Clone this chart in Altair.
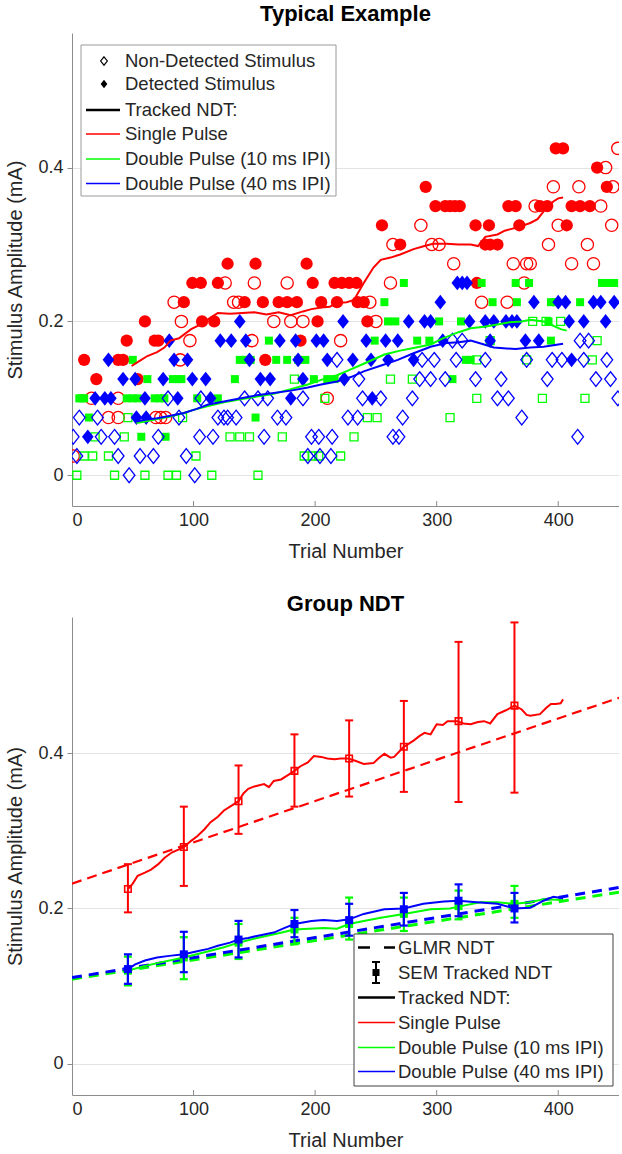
import altair as alt
import pandas as pd

FONT = "Liberation Sans"
X_MAX = 450
Y_MIN, Y_MAX = -0.04, 0.575
X_TICKS = [0, 100, 200, 300, 400]
Y_TICKS = [0, 0.2, 0.4]

# ---------------- Top panel: single trials (amplitude level -> trial numbers) ----------------
SP_DETECTED = {
    0.425: [398, 404],
    0.4: [432],
    0.375: [291, 440],
    0.35: [299, 307, 311, 315, 319, 359, 365, 385, 391, 411, 418, 426],
    0.325: [255, 332, 343, 368, 407],
    0.3: [270, 340, 344, 350],
    0.275: [128, 151, 193],
    0.25: [99, 106, 120, 198, 216, 222, 228, 234, 333],
    0.225: [92, 142, 157, 170, 177, 185, 205, 218, 235, 240],
    0.2: [60, 107, 117, 202, 243],
    0.175: [45, 68, 71, 188],
    0.15: [10, 38, 42, 159],
    0.125: [20, 54],
}
SP_MISSED = {
    0.425: [449],
    0.4: [439],
    0.375: [396, 417, 445],
    0.35: [381, 435],
    0.325: [287, 400, 444],
    0.3: [264, 296, 302, 392, 424],
    0.275: [314, 363, 374, 377, 411, 429],
    0.25: [126, 150, 177, 262, 372],
    0.225: [84, 133, 137, 245, 337, 358],
    0.2: [90, 166, 180, 190, 250],
    0.175: [97, 148, 221],
    0.15: [89],
    0.1: [16, 38, 210],
    0.075: [30, 38, 69, 73, 77],
    0.025: [1],
}
DP10_DETECTED = {
    0.25: [273, 337, 365, 376, 436, 441, 446],
    0.225: [257, 346, 366, 394, 398, 418],
    0.2: [260, 266, 302, 320, 392],
    0.175: [162, 249, 284, 294, 394],
    0.15: [50, 138, 143, 147, 168, 177, 186, 192, 324, 328],
    0.125: [62, 83, 87, 90, 134, 199, 210, 216, 313],
    0.1: [6, 8, 10, 45, 50, 54, 68, 72, 76, 103, 120],
    0.075: [14, 151],
    0.05: [57, 77],
}
DP10_MISSED = {
    0.2: [379, 390, 402],
    0.175: [344, 432],
    0.15: [333, 374, 428],
    0.125: [183, 262, 280],
    0.1: [208, 333, 387, 422],
    0.075: [46, 91, 243, 251, 311],
    0.05: [19, 43, 130, 138, 146, 173, 232],
    0.025: [10, 17, 30, 102, 191, 198, 203, 221],
    0.0: [4, 35, 60, 79, 86, 115, 153],
}
DP40_DETECTED = {
    0.25: [317, 321, 325],
    0.225: [303, 380, 400, 406, 429, 435, 446],
    0.2: [138, 223, 277, 290, 295, 327, 340, 347, 357, 362, 366, 409, 421, 439],
    0.175: [80, 122, 131, 143, 171, 184, 201, 207, 242, 258, 268, 305, 344, 373, 384],
    0.15: [30, 84, 95, 146, 186, 210, 231, 246, 260, 281, 411],
    0.125: [42, 52, 75, 99, 110, 155, 163, 190, 224],
    0.1: [19, 27, 32, 60, 87, 114, 180, 247],
    0.075: [53, 61],
    0.05: [13],
}
DP40_MISSED = {
    0.175: [313, 321, 418, 425],
    0.15: [218, 288, 298, 316, 340, 374, 395, 403, 421, 440],
    0.125: [236, 286, 295, 307, 332, 353, 391, 431, 443],
    0.1: [79, 106, 142, 153, 161, 190, 239, 254, 280, 350, 359, 449],
    0.075: [6, 21, 88, 120, 125, 128, 135, 169, 176, 227, 235, 272, 370],
    0.05: [1, 24, 35, 71, 105, 116, 158, 197, 203, 214, 264, 269, 416],
    0.025: [4, 38, 56, 67, 94, 194, 204, 213],
    0.0: [47, 101],
}

# Tracked NDT, typical example
TOP_SP_T = [49, 55, 62, 70, 76, 81, 88, 98, 106, 114, 120, 130, 140, 150, 160, 170, 180, 190, 197, 205, 212, 218,
            226, 232, 240, 248, 254, 262, 270, 281, 290, 297, 308, 318, 328, 334, 340, 350, 356, 361, 368, 377,
            383, 388, 392, 396, 400, 404]
TOP_SP_V = [0.142, 0.148, 0.155, 0.160, 0.166, 0.175, 0.178, 0.190, 0.196, 0.205, 0.211, 0.210, 0.211, 0.212, 0.209,
            0.212, 0.208, 0.213, 0.216, 0.218, 0.219, 0.224, 0.225, 0.228, 0.250, 0.270, 0.280, 0.283, 0.287,
            0.294, 0.298, 0.301, 0.301, 0.300, 0.300, 0.298, 0.310, 0.313, 0.318, 0.320, 0.323, 0.328, 0.333,
            0.343, 0.350, 0.356, 0.360, 0.361]
TOP_DP10_T = [53, 60, 70, 80, 92, 100, 112, 125, 140, 155, 166, 180, 194, 205, 218, 227, 240, 257, 270, 280, 295,
              305, 318, 328, 339, 350, 360, 370, 377, 388, 395, 402, 407]
TOP_DP10_V = [0.068, 0.070, 0.073, 0.076, 0.081, 0.085, 0.090, 0.095, 0.099, 0.103, 0.106, 0.112, 0.118, 0.124,
              0.130, 0.136, 0.145, 0.157, 0.162, 0.165, 0.170, 0.178, 0.186, 0.191, 0.193, 0.196, 0.199, 0.200,
              0.202, 0.200, 0.195, 0.190, 0.188]
TOP_DP40_T = [53, 60, 70, 80, 92, 102, 112, 125, 139, 152, 166, 180, 194, 205, 218, 230, 240, 255, 268, 280, 295,
              308, 318, 328, 339, 347, 355, 365, 377, 388, 396, 404]
TOP_DP40_V = [0.070, 0.072, 0.074, 0.077, 0.081, 0.086, 0.092, 0.096, 0.100, 0.104, 0.107, 0.110, 0.114, 0.118,
              0.122, 0.128, 0.135, 0.143, 0.150, 0.158, 0.167, 0.172, 0.173, 0.175, 0.170, 0.166, 0.165, 0.164,
              0.166, 0.167, 0.169, 0.171]

# ---------------- Bottom panel: group NDT ----------------
GRP_SP_T = [46, 50, 54, 60, 65, 71, 76, 82, 88, 92, 98, 103, 109, 114, 120, 125, 131, 137, 141, 145, 150, 158,
            162, 166, 172, 177, 183, 188, 194, 199, 205, 210, 216, 221, 227, 233, 240, 248, 252, 257, 262, 265,
            273, 281, 286, 290, 295, 300, 305, 309, 317, 322, 328, 334, 339, 344, 350, 357, 364, 370, 374, 377,
            385, 390, 394, 398, 402, 404]
GRP_SP_V = [0.225, 0.232, 0.242, 0.246, 0.250, 0.257, 0.265, 0.272, 0.276, 0.279, 0.287, 0.293, 0.302, 0.311,
            0.318, 0.326, 0.332, 0.338, 0.348, 0.354, 0.357, 0.360, 0.356, 0.364, 0.366, 0.371, 0.377, 0.383,
            0.388, 0.396, 0.395, 0.393, 0.392, 0.393, 0.393, 0.390, 0.386, 0.387, 0.393, 0.399, 0.394, 0.395,
            0.408, 0.416, 0.422, 0.426, 0.424, 0.437, 0.436, 0.441, 0.441, 0.438, 0.437, 0.440, 0.441, 0.438,
            0.450, 0.455, 0.461, 0.456, 0.449, 0.448, 0.450, 0.458, 0.463, 0.463, 0.464, 0.469]
GRP_DP10_T = [46, 60, 71, 92, 110, 125, 137, 155, 170, 183, 195, 207, 218, 228, 240, 254, 273, 295, 311, 320, 336,
              350, 364, 377, 388, 404]
GRP_DP10_V = [0.120, 0.126, 0.130, 0.137, 0.144, 0.150, 0.156, 0.163, 0.168, 0.173, 0.174, 0.175, 0.174, 0.180,
              0.184, 0.188, 0.193, 0.199, 0.200, 0.203, 0.208, 0.208, 0.206, 0.208, 0.212, 0.211]
GRP_DP40_T = [46, 52, 60, 70, 80, 92, 103, 112, 120, 130, 137, 145, 153, 166, 175, 183, 190, 197, 207, 218, 228,
              240, 257, 273, 289, 306, 318, 333, 350, 364, 377, 388, 396, 404]
GRP_DP40_V = [0.122, 0.128, 0.133, 0.137, 0.139, 0.141, 0.145, 0.148, 0.152, 0.156, 0.160, 0.162, 0.165, 0.169,
              0.175, 0.180, 0.182, 0.184, 0.185, 0.184, 0.186, 0.193, 0.199, 0.200, 0.206, 0.209, 0.210, 0.208,
              0.206, 0.200, 0.201, 0.210, 0.215, 0.213]

SEM_T = [46, 92, 137, 183, 228, 273, 318, 364]
SEM_SP_MID = [0.225, 0.279, 0.338, 0.377, 0.393, 0.408, 0.441, 0.461]
SEM_SP_LO = [0.195, 0.229, 0.296, 0.331, 0.344, 0.350, 0.337, 0.349]
SEM_SP_HI = [0.257, 0.331, 0.384, 0.424, 0.442, 0.467, 0.543, 0.568]
SEM_DP10_MID = [0.120, 0.137, 0.156, 0.173, 0.180, 0.193, 0.203, 0.206]
SEM_DP10_LO = [0.101, 0.109, 0.135, 0.154, 0.160, 0.171, 0.186, 0.188]
SEM_DP10_HI = [0.138, 0.163, 0.180, 0.188, 0.214, 0.214, 0.223, 0.229]
SEM_DP40_MID = [0.122, 0.141, 0.160, 0.180, 0.185, 0.199, 0.210, 0.200]
SEM_DP40_LO = [0.103, 0.118, 0.137, 0.163, 0.165, 0.178, 0.190, 0.182]
SEM_DP40_HI = [0.141, 0.170, 0.184, 0.198, 0.206, 0.220, 0.231, 0.220]

GLMR_T = [0, 450]
GLMR_SP = [0.232, 0.471]
GLMR_DP10 = [0.109, 0.221]
GLMR_DP40 = [0.111, 0.227]

RED, GREEN, BLUE = "#ff0000", "#00ff00", "#0000ff"
DIAMOND = "M0,-1.2L0.95,0L0,1.2L-0.95,0Z"
HBAR = "M-1,0L1,0"
W, H1, H2 = 547, 473, 478

xscale = alt.Scale(domain=[0, X_MAX], nice=False, zero=False)
yscale = alt.Scale(domain=[Y_MIN, Y_MAX], nice=False, zero=False)
AX = dict(labelFont=FONT, labelFontSize=18, labelColor="#262626", titleFont=FONT, titleFontSize=20,
          titleFontWeight="normal", titleColor="#262626", domainColor="#8c8c8c", tickColor="#8c8c8c")
xaxis = alt.Axis(title="Trial Number", values=X_TICKS, grid=False, tickSize=0, labelPadding=5,
                 titlePadding=12, **AX)
yaxis = alt.Axis(title="Stimulus Amplitude (mA)", values=Y_TICKS, grid=True, tickSize=5, labelPadding=4,
                 titlePadding=12, format="~g", gridColor="#e3e3e3", **AX)


def flat(d):
    return pd.DataFrame([{"t": t, "amp": a} for a, ts in d.items() for t in ts])


def enc(ch, xf="t", yf="amp"):
    return ch.encode(x=alt.X(f"{xf}:Q", scale=xscale, axis=xaxis),
                     y=alt.Y(f"{yf}:Q", scale=yscale, axis=yaxis))


def series(t, v):
    return pd.DataFrame({"t": t, "amp": v})


dummy = pd.DataFrame({"a": [0]})


def inward_ticks(h):
    return alt.Chart(pd.DataFrame({"t": X_TICKS[1:]})).mark_rule(color="#8c8c8c", strokeWidth=1).encode(
        x=alt.X("t:Q", scale=xscale, axis=xaxis), y=alt.value(h), y2=alt.value(h - 5))


def ltext(x, y, s, size=18.5):
    return alt.Chart(dummy).mark_text(align="left", baseline="middle", font=FONT, fontSize=size,
                                      color="#262626").encode(x=alt.value(x), y=alt.value(y), text=alt.value(s))


def lrule(x1, x2, y, color, width, dash=None):
    kw = dict(color=color, strokeWidth=width)
    if dash:
        kw["strokeDash"] = dash
    return alt.Chart(dummy).mark_rule(**kw).encode(x=alt.value(x1), x2=alt.value(x2), y=alt.value(y))


def lbox(x1, x2, y1, y2, stroke):
    return alt.Chart(dummy).mark_rect(fill="white", stroke=stroke, strokeWidth=1).encode(
        x=alt.value(x1), x2=alt.value(x2), y=alt.value(y1), y2=alt.value(y2))


def pts(d, shape, size, color, filled, sw=1.3):
    return enc(alt.Chart(flat(d)).mark_point(shape=shape, size=size, color=color, filled=filled, opacity=1,
                                             strokeWidth=0 if filled else sw, clip=True))


def line(t, v, color, width=2, dash=None):
    kw = dict(color=color, strokeWidth=width, clip=True)
    if dash:
        kw["strokeDash"] = dash
    return enc(alt.Chart(series(t, v)).mark_line(**kw))


# ---------- top panel ----------
top_layers = [
    inward_ticks(H1),
    pts(SP_MISSED, "circle", 150, RED, False),
    pts(SP_DETECTED, "circle", 150, RED, True),
    pts(DP10_MISSED, "square", 64, GREEN, False),
    pts(DP10_DETECTED, "square", 64, GREEN, True),
    pts(DP40_MISSED, DIAMOND, 150, BLUE, False),
    pts(DP40_DETECTED, DIAMOND, 150, BLUE, True),
    line(TOP_SP_T, TOP_SP_V, RED),
    line(TOP_DP10_T, TOP_DP10_V, GREEN),
    line(TOP_DP40_T, TOP_DP40_V, BLUE),
    lbox(9, 264, 12, 163, "#9a9a9a"),
    alt.Chart(dummy).mark_point(shape=DIAMOND, size=50, color="black", filled=False, strokeWidth=1.2,
                                opacity=1).encode(x=alt.value(32), y=alt.value(28)),
    alt.Chart(dummy).mark_point(shape=DIAMOND, size=50, color="black", filled=True, opacity=1).encode(
        x=alt.value(32), y=alt.value(51)),
    lrule(14, 48, 77, "black", 2.5),
    lrule(14, 48, 101, RED, 1.5),
    lrule(14, 48, 126, GREEN, 1.5),
    lrule(14, 48, 150.5, BLUE, 1.5),
    ltext(53, 28, "Non-Detected Stimulus"),
    ltext(53, 51, "Detected Stimulus"),
    ltext(53, 77, "Tracked NDT:"),
    ltext(53, 101, "Single Pulse"),
    ltext(53, 126, "Double Pulse (10 ms IPI)"),
    ltext(53, 150.5, "Double Pulse (40 ms IPI)"),
]
top = alt.layer(*top_layers).properties(
    width=W, height=H1,
    title=alt.TitleParams("Typical Example", font=FONT, fontSize=22, fontWeight="bold", color="black", offset=7))


# ---------- bottom panel ----------
def sem(mid, lo, hi, color, hollow, bw):
    d = pd.DataFrame({"t": SEM_T, "amp": mid, "lo": lo, "hi": hi})
    base = alt.Chart(d)
    bars = base.mark_rule(color=color, strokeWidth=bw).encode(
        x=alt.X("t:Q", scale=xscale, axis=xaxis), y=alt.Y("lo:Q", scale=yscale, axis=yaxis), y2="hi:Q")
    cap_lo = enc(base.mark_point(shape=HBAR, size=64, color=color, filled=False, strokeWidth=bw, opacity=1),
                 yf="lo")
    cap_hi = enc(base.mark_point(shape=HBAR, size=64, color=color, filled=False, strokeWidth=bw, opacity=1),
                 yf="hi")
    if hollow:
        mk = enc(base.mark_point(shape="square", size=42, color=color, filled=False, strokeWidth=1.6, opacity=1))
    else:
        mk = enc(base.mark_point(shape="square", size=64, color=color, filled=True, opacity=1))
    return [bars, cap_lo, cap_hi, mk]


bot_layers = [
    inward_ticks(H2),
    line(GLMR_T, GLMR_SP, RED, 2.2, [10, 6]),
    line(GLMR_T, GLMR_DP10, GREEN, 3, [10, 7]),
    line(GLMR_T, GLMR_DP40, BLUE, 3, [10, 7]),
    line(GRP_SP_T, GRP_SP_V, RED, 2),
    *sem(SEM_SP_MID, SEM_SP_LO, SEM_SP_HI, RED, True, 2),
    line(GRP_DP10_T, GRP_DP10_V, GREEN, 2),
    *sem(SEM_DP10_MID, SEM_DP10_LO, SEM_DP10_HI, GREEN, False, 2.2),
    line(GRP_DP40_T, GRP_DP40_V, BLUE, 2),
    *sem(SEM_DP40_MID, SEM_DP40_LO, SEM_DP40_HI, BLUE, False, 2.2),
    lbox(282, 541, 317, 469, "#404040"),
    lrule(286, 323, 330.5, "black", 2.5, [12, 14]),
    alt.Chart(dummy).mark_rule(color="black", strokeWidth=2).encode(
        x=alt.value(304), y=alt.value(345), y2=alt.value(366)),
    alt.Chart(dummy).mark_point(shape=HBAR, size=64, color="black", filled=False, strokeWidth=2, opacity=1).encode(
        x=alt.value(304), y=alt.value(345)),
    alt.Chart(dummy).mark_point(shape=HBAR, size=64, color="black", filled=False, strokeWidth=2, opacity=1).encode(
        x=alt.value(304), y=alt.value(366)),
    alt.Chart(dummy).mark_point(shape="square", size=49, color="black", filled=True, opacity=1).encode(
        x=alt.value(304), y=alt.value(355.5)),
    lrule(286, 323, 380.5, "black", 2.5),
    lrule(286, 323, 405.5, RED, 1.5),
    lrule(286, 323, 430.5, GREEN, 1.5),
    lrule(286, 323, 454.5, BLUE, 1.5),
    ltext(326, 330.5, "GLMR NDT"),
    ltext(326, 355.5, "SEM Tracked NDT"),
    ltext(326, 380.5, "Tracked NDT:"),
    ltext(326, 405.5, "Single Pulse"),
    ltext(326, 430.5, "Double Pulse (10 ms IPI)"),
    ltext(326, 454.5, "Double Pulse (40 ms IPI)"),
]
bottom = alt.layer(*bot_layers).properties(
    width=W, height=H2,
    title=alt.TitleParams("Group NDT", font=FONT, fontSize=22, fontWeight="bold", color="black", offset=1))

chart = alt.vconcat(top, bottom, spacing=32).properties(
    padding={"left": 5, "top": 3, "right": 0, "bottom": 0}, background="white"
).configure_view(stroke=None)

chart.save("out.html", embed_options={"renderer": "svg", "actions": False})
